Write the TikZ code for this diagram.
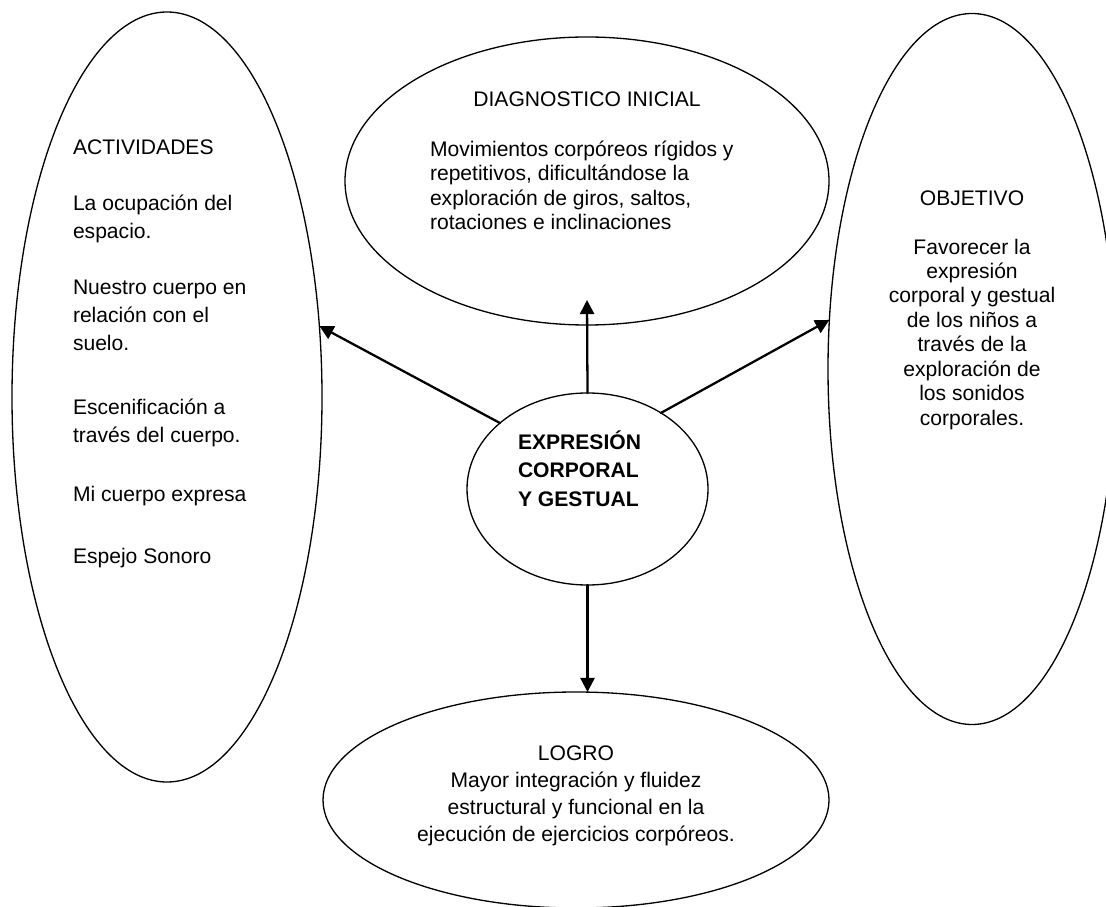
\documentclass[tikz,border=0pt]{standalone}
\usepackage{fontspec}
\setmainfont{Liberation Sans}
\usetikzlibrary{shapes.geometric,arrows.meta}

\begin{document}
\begin{tikzpicture}[line join = round, line cap = round, >={Triangle[length = 8pt, width = 8pt]}, font = \fontsize{12}{14}\selectfont, scale = 1,
	elip/.style = {ellipse, line width = .75pt, draw = black, anchor = center, inner sep = 0pt, outer sep = 0pt},
	txt/.style = {inner sep = 0pt, outer sep = 0pt},
	flecha/.style = {->, line width = 1.3pt}]
	%		\draw[gray!50,xstep = 1, ystep = 1] (0,0) grid (22,18);
	\useasboundingbox (0,0) rectangle (22.12,18.12);
	\clip (0,0) rectangle (22.12,18.12);
	
	\node[elip, minimum width = 6.2cm, minimum height = 15.4cm] (act) at (3.34,10.18) {};
	\node[elip, minimum width = 9.68cm, minimum height = 5.76cm] (diag) at (11.74,14.5) {};
	\node[elip, minimum width = 5.76cm, minimum height = 14.22cm] (obj) at (19.44,10.74) {};
	\node[elip, minimum width = 4.82cm, minimum height = 3.84cm] (mid) at (11.75,8.34) {};
	\node[elip, minimum width = 10.12cm, minimum height = 4.32cm] (logro) at (11.52,2.12) {};
	
	% anchor base = baseline of the last line
	\node[txt, anchor = base west, align = left, font = \fontsize{12}{15.9}\selectfont] (actT) at (1.46,6.86) {ACTIVIDADES\\[15.9pt] La ocupación del\\ espacio.\\[15.9pt] Nuestro cuerpo en\\ relación con el\\ suelo.\\[20.4pt] Escenificación a\\ través del cuerpo.\\[17.6pt] Mi cuerpo expresa\\[19.3pt] Espejo Sonoro};
	\node[txt, anchor = base] (diagT) at (11.74,15.98) {DIAGNOSTICO INICIAL};
	\node[txt, anchor = base west, align = left] (diagB) at (8.6,13.52) {Movimientos corpóreos rígidos y\\ repetitivos, dificultándose la\\ exploración de giros, saltos,\\ rotaciones e inclinaciones};
	\node[txt, anchor = base, align = center, font = \fontsize{12}{13.9}\selectfont] (objT) at (19.44,9.62) {OBJETIVO\\[13.9pt] Favorecer la\\ expresión\\ corporal y gestual\\ de los niños a\\ través de la\\ exploración de\\ los sonidos\\ corporales.};
	\node[txt, anchor = base west, align = left, font = \fontsize{12}{16.1}\selectfont\bfseries] (midT) at (10.36,8.0) {EXPRESIÓN\\ CORPORAL\\ Y GESTUAL};
	\node[txt, anchor = base, align = center, font = \fontsize{12}{15.3}\selectfont] (logroT) at (11.52,1.3) {LOGRO\\ Mayor integración y fluidez\\ estructural y funcional en la\\ ejecución de ejercicios corpóreos.};
	
	\draw[flecha] (mid.143) -- (act.25);
	\draw[flecha] (mid.north) -- ([yshift = .5cm]diag.south);
	\draw[flecha] (mid.46) -- (obj.161);
	\draw[flecha] (mid.south) -- (mid.south |- logro.north);
\end{tikzpicture}
\end{document}
